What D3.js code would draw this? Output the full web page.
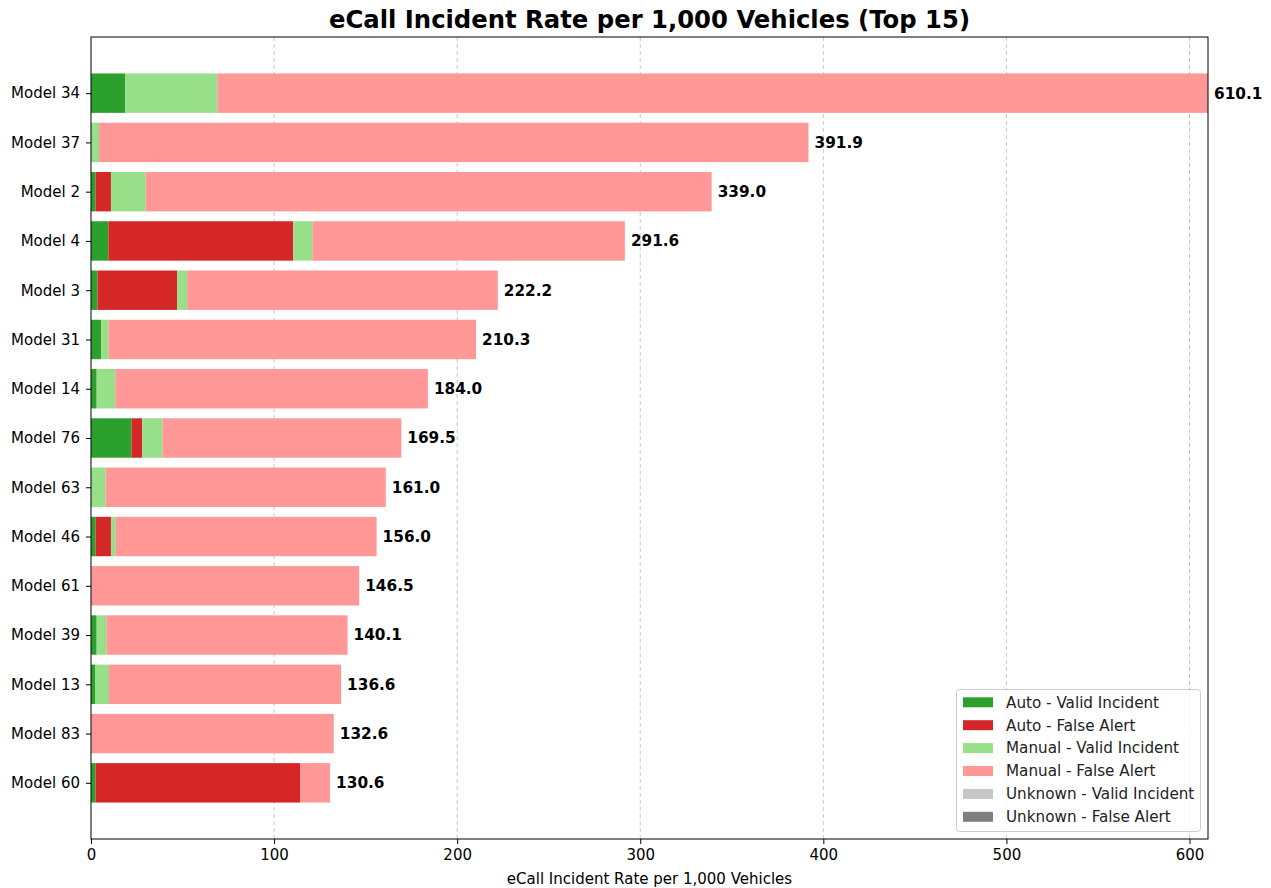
<!DOCTYPE html>
<html><head><meta charset="utf-8">
<script src="https://cdn.jsdelivr.net/npm/d3@7"></script>
<style>body{margin:0;background:#fff;font-family:"DejaVu Sans",sans-serif;}</style>
</head><body><svg id="c" width="1271" height="888"></svg>
<script>
const models = ["Model 34","Model 37","Model 2","Model 4","Model 3","Model 31","Model 14","Model 76","Model 63","Model 46","Model 61","Model 39","Model 13","Model 83","Model 60"];
const totals = [610.1,391.9,339.0,291.6,222.2,210.3,184.0,169.5,161.0,156.0,146.5,140.1,136.6,132.6,130.6];
const autoValid   = [18.6,0,2.5,9.5,3.6,5.5,3.1,22.2,0,2.5,0,3.1,2.2,0,2.5];
const autoFalse   = [0,0,8.4,101.0,43.4,0,0,5.8,0,8.4,0,0,0,0,111.9];
const manualValid = [50.4,4.4,19.0,10.4,5.5,4.0,10.2,11.0,8.0,2.6,0,5.3,7.6,0,0];
const unknownValid = [0,0,0,0,0,0,0,0,0,0,0,0,0,0,0];
const unknownFalse = [0,0,0,0,0,0,0,0,0,0,0,0,0,0,0];
const manualFalse = totals.map((t,i)=>+(t-autoValid[i]-autoFalse[i]-manualValid[i]-unknownValid[i]-unknownFalse[i]).toFixed(1));
const seriesNames = ["Auto - Valid Incident","Auto - False Alert","Manual - Valid Incident","Manual - False Alert","Unknown - Valid Incident","Unknown - False Alert"];
const seriesColors = ["#2ca02c","#d62728","#98df8a","#ff9896","#c7c7c7","#7f7f7f"];
const xTicks = [0,100,200,300,400,500,600];

const series = [autoValid,autoFalse,manualValid,manualFalse,unknownValid,unknownFalse];
const svg = d3.select("#c");
const L=91,R=1208,T=37,B=839;
const x = d3.scaleLinear().domain([0,610.1]).range([L,R]);
const yl = d3.scaleLinear().domain([-1.14,15.14]).range([T,B]);
const bh = yl(0.4)-yl(-0.4);

svg.append("g").selectAll("line").data(xTicks.slice(1)).join("line")
  .attr("x1",d=>x(d)).attr("x2",d=>x(d)).attr("y1",T).attr("y2",B)
  .attr("stroke","#b0b0b0").attr("stroke-opacity",0.7).attr("stroke-dasharray","4,3").attr("stroke-width",1);

const g = svg.append("g");
models.forEach((m,i)=>{
  let acc=0;
  series.forEach((s,k)=>{
    const v=s[i];
    if(v>0){
      g.append("rect").attr("x",x(acc)).attr("width",x(acc+v)-x(acc))
        .attr("y",yl(i)-bh/2).attr("height",bh).attr("fill",seriesColors[k]);
    }
    acc+=v;
  });
  g.append("text").attr("x",x(totals[i])+6).attr("y",yl(i)).attr("dy","0.35em")
    .attr("font-size",15.3).attr("font-weight","bold").attr("fill","#000").text(totals[i].toFixed(1));
});

svg.append("rect").attr("x",L).attr("y",T).attr("width",R-L).attr("height",B-T)
  .attr("fill","none").attr("stroke","#000").attr("stroke-width",1);

const xa = svg.append("g").attr("transform",`translate(0,${B})`)
  .call(d3.axisBottom(x).tickValues(xTicks).tickSize(5).tickPadding(5).tickFormat(d3.format("d")));
xa.select(".domain").remove();
xa.selectAll("text").attr("font-size",15).attr("font-family","DejaVu Sans").attr("fill","#000");

const ya = svg.append("g").attr("transform",`translate(${L},0)`)
  .call(d3.axisLeft(d3.scalePoint().domain(models).range([yl(0),yl(14)])).tickSize(5).tickPadding(6));
ya.select(".domain").remove();
ya.selectAll("text").attr("font-size",15).attr("font-family","DejaVu Sans").attr("fill","#000");

svg.append("text").attr("x",(L+R)/2).attr("y",884).attr("text-anchor","middle")
  .attr("font-size",15).text("eCall Incident Rate per 1,000 Vehicles");
svg.append("text").attr("x",(L+R)/2).attr("y",27.5).attr("text-anchor","middle")
  .attr("font-size",24.3).attr("font-weight","bold").text("eCall Incident Rate per 1,000 Vehicles (Top 15)");

const lg = svg.append("g");
lg.append("rect").attr("x",956.5).attr("y",689.5).attr("width",244).attr("height",142).attr("rx",3)
  .attr("fill","#fff").attr("fill-opacity",0.8).attr("stroke","#ccc");
seriesNames.forEach((n,k)=>{
  const cy=702.3+k*22.9;
  lg.append("rect").attr("x",963).attr("y",cy-5).attr("width",30).attr("height",10).attr("fill",seriesColors[k]);
  lg.append("text").attr("x",1006).attr("y",cy).attr("dy","0.35em").attr("font-size",15.2).attr("fill","#222").text(n);
});
</script></body></html>
